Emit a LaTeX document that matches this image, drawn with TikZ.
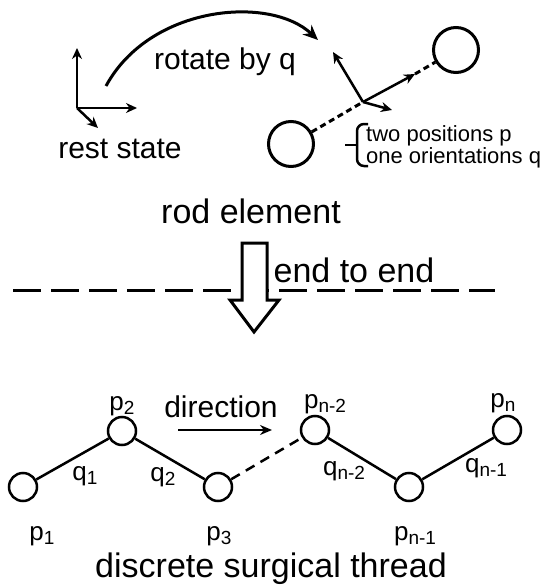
\documentclass[tikz,border=0pt]{standalone}
\usepackage{fontspec}
\setmainfont{Liberation Sans}
\usetikzlibrary{arrows.meta,positioning}
\newcommand{\idx}[1]{\raisebox{-4pt}{\fontsize{19}{19}\selectfont #1}}

\begin{document}
\begin{tikzpicture}[
    x=1pt,y=-1pt,
    headtxt/.style={font=\fontsize{34}{34}\selectfont,inner sep=0pt,anchor=base},
    bodytxt/.style={font=\fontsize{30}{30}\selectfont,inner sep=0pt,anchor=base},
    lbl/.style={font=\fontsize{26}{26}\selectfont,inner sep=0pt,anchor=base},
    spec/.style={font=\fontsize{22}{17}\selectfont,inner sep=0pt,align=left,anchor=west},
    ball/.style={circle,draw,line width=3pt,minimum size=45pt,inner sep=0pt},
    joint/.style={circle,draw,line width=2.5pt,minimum size=28pt,inner sep=0pt},
    axis/.style={line width=2.5pt,-{Stealth[length=11pt,width=10pt]}},
    link/.style={line width=2.5pt}
  ]
  \useasboundingbox (0,0) rectangle (541,586);

  % rest state frame
  \coordinate (o) at (77,108);
  \coordinate (ox) at (137,108);
  \coordinate (oy) at (77,48);
  \coordinate (oz) at (98,128);
  \draw[axis] (o) -- (ox);
  \draw[axis] (o) -- (oy);
  \draw[axis] (o) -- (oz);
  \node[bodytxt] (rest) at (120,158) {rest state};

  % rotation
  \coordinate (rs) at (106,86);
  \coordinate (re) at (318,40);
  \draw[line width=3pt,-{Stealth[length=15pt,width=13pt]}] (rs) .. controls (150,5) and (270,-5) .. (re);
  \node[bodytxt] (rot) at (225,70) {rotate by q};

  % rod element
  \node[ball] (ra) at (291,144) {};
  \node[ball] (rb) at (456,50) {};
  \coordinate (rc) at (363,102);
  \coordinate (rt) at (415,74);
  \coordinate (ru) at (333,52);
  \coordinate (rv) at (392,110);
  \draw[link,line width=3pt,dash pattern=on 6pt off 4pt] (ra) -- (rc);
  \draw[link,line width=3pt,dash pattern=on 6pt off 4pt] (rt) -- (rb);
  \draw[axis] (rc) -- (rt);
  \draw[axis] (rc) -- (ru);
  \draw[axis] (rc) -- (rv);

  \draw[link,rounded corners=7pt] (368,124) -- (357,124) -- (357,166) -- (368,166);
  \draw[link] (345,145) -- (357,145);
  \node[spec] (dof) at (366,147) {two positions p\\one orientations q};

  \node[headtxt] (rod) at (251,223) {rod element};

  % end to end
  \draw[line width=3pt,dash pattern=on 28pt off 10pt] (13,290) -- (495,290);
  \draw[line width=3pt,fill=white] (242,243) -- (267,243) -- (267,300) -- (279,300)
    -- (254,332) -- (230,300) -- (242,300) -- cycle;
  \node[headtxt] (join) at (354,282) {end to end};

  % thread
  \node[joint] (j1) at (23,487) {};
  \node[joint] (j2) at (122,431) {};
  \node[joint] (j3) at (218,487) {};
  \node[joint] (j4) at (315,430) {};
  \node[joint] (j5) at (409,487) {};
  \node[joint] (j6) at (507,430) {};
  \draw[link] (j1) -- (j2);
  \draw[link] (j2) -- (j3);
  \draw[link,dash pattern=on 10pt off 7pt] (j3) -- (j4);
  \draw[link] (j4) -- (j5);
  \draw[link] (j5) -- (j6);

  \node[lbl] (lp1) at (42,540) {p\idx{1}};
  \node[lbl] (lp2) at (122,410) {p\idx{2}};
  \node[lbl] (lp3) at (219,540) {p\idx{3}};
  \node[lbl] (lp4) at (325,408) {p\idx{n-2}};
  \node[lbl] (lp5) at (415,540) {p\idx{n-1}};
  \node[lbl] (lp6) at (503,407) {p\idx{n}};
  \node[lbl] (lq1) at (85,480) {q\idx{1}};
  \node[lbl] (lq2) at (163,481) {q\idx{2}};
  \node[lbl] (lq4) at (344,475) {q\idx{n-2}};
  \node[lbl] (lq5) at (486,472) {q\idx{n-1}};

  \node[bodytxt] (dir) at (221,417) {direction};
  \coordinate (da) at (178,430);
  \coordinate (db) at (272,430);
  \draw[line width=2.5pt,-{Stealth[length=12pt,width=10pt]}] (da) -- (db);

  \node[headtxt] (title) at (271,577) {discrete surgical thread};
\end{tikzpicture}
\end{document}
